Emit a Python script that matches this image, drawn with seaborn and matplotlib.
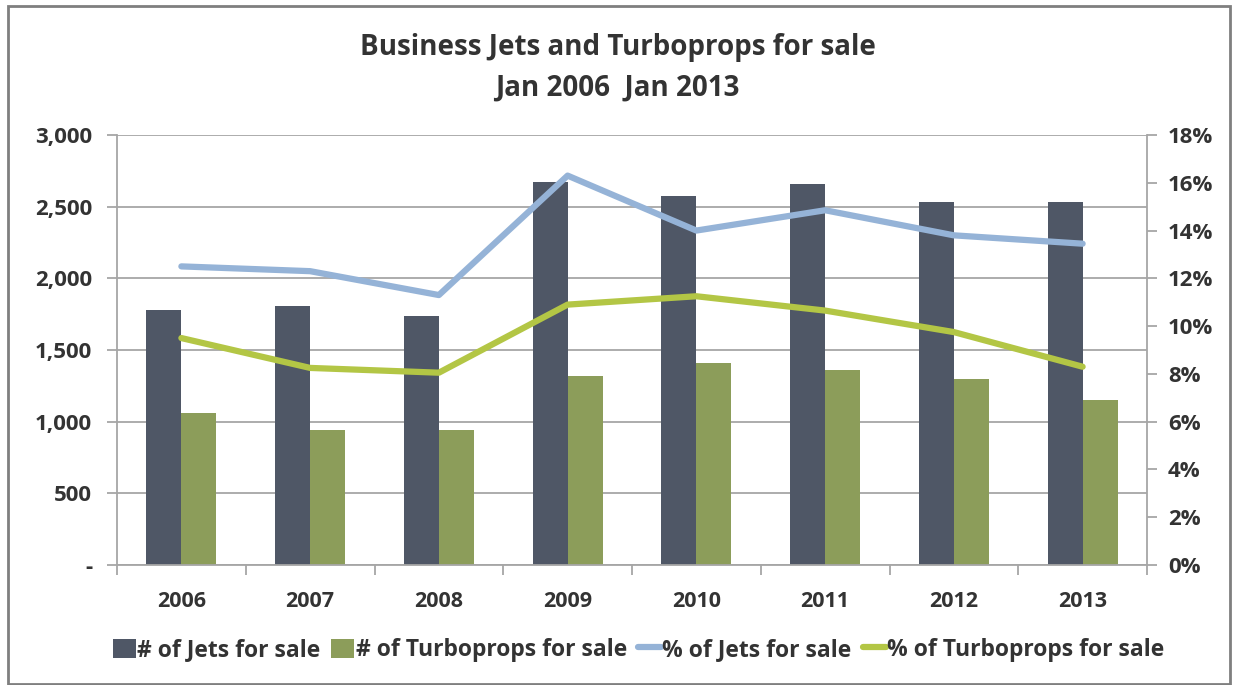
import matplotlib
matplotlib.use("Agg")
import matplotlib.pyplot as plt
from matplotlib.patches import Rectangle, Patch
from matplotlib.lines import Line2D
from matplotlib.ticker import FixedLocator, FuncFormatter
import seaborn as sns
import pandas as pd

years = ["2006", "2007", "2008", "2009", "2010", "2011", "2012", "2013"]
jets_count = [1780, 1810, 1740, 2670, 2575, 2655, 2535, 2535]
turbo_count = [1060, 940, 940, 1320, 1410, 1360, 1300, 1150]
jets_pct = [12.5, 12.3, 11.3, 16.3, 14.0, 14.85, 13.8, 13.45]
turbo_pct = [9.5, 8.25, 8.05, 10.9, 11.25, 10.65, 9.75, 8.3]

bar_names = ["# of Jets for sale", "# of Turboprops for sale"]
line_names = ["% of Jets for sale", "% of Turboprops for sale"]
bar_colors = ["#4f5766", "#8c9d5a"]
line_colors = ["#95b3d7", "#b3c645"]

sns.set_theme(style="white")
plt.rcParams["font.family"] = ["Open Sans", "DejaVu Sans"]
text_color = "#333333"
grid_color = "#a6a6a6"

bars_df = pd.DataFrame({
    "year": years * 2,
    "count": jets_count + turbo_count,
    "series": [bar_names[0]] * len(years) + [bar_names[1]] * len(years),
})
lines_df = pd.DataFrame({
    "year": years * 2,
    "pct": jets_pct + turbo_pct,
    "series": [line_names[0]] * len(years) + [line_names[1]] * len(years),
})

fig = plt.figure(figsize=(12.35, 6.85), dpi=100)
ax = fig.add_axes([117 / 1235, 1 - 565 / 685, 1030 / 1235, 430 / 685])

sns.barplot(data=bars_df, x="year", y="count", hue="series",
            palette=bar_colors, width=0.544, gap=0, saturation=1,
            ax=ax, legend=False, linewidth=0)

ax.set_xlim(-0.5, len(years) - 0.5)
ax.set_ylim(0, 3000)
ax.set_yticks(range(0, 3001, 500))
ax.yaxis.set_major_formatter(FuncFormatter(lambda v, p: "-" if v == 0 else f"{int(v):,}"))
ax.grid(axis="y", color=grid_color, linewidth=1.3)
ax.set_axisbelow(True)
ax.set_xlabel("")
ax.set_ylabel("")

ax2 = ax.twinx()
sns.lineplot(data=lines_df, x="year", y="pct", hue="series",
             palette=line_colors, linewidth=4.5, ax=ax2, legend=False,
             sort=False)
ax2.set_xlim(-0.5, len(years) - 0.5)
ax2.set_ylim(0, 18)
ax2.set_yticks(range(0, 19, 2))
ax2.yaxis.set_major_formatter(FuncFormatter(lambda v, p: f"{int(v)}%"))
ax2.set_ylabel("")
ax2.grid(False)

for a in (ax, ax2):
    for s in a.spines.values():
        s.set_visible(False)
for a, side in ((ax, "left"), (ax, "bottom"), (ax2, "right")):
    a.spines[side].set_visible(True)
    a.spines[side].set_color(grid_color)
    a.spines[side].set_linewidth(1.3)

# x ticks sit on category boundaries, labels at centres
ax.xaxis.set_major_locator(FixedLocator(range(len(years))))
ax.set_xticklabels(years)
ax.xaxis.set_minor_locator(FixedLocator([i - 0.5 for i in range(len(years) + 1)]))
ax.tick_params(axis="x", which="major", length=0, pad=19, labelsize=15.5,
               labelcolor=text_color)
ax.tick_params(axis="x", which="minor", bottom=True, length=7, width=1.3,
               color=grid_color, direction="out")
ax.tick_params(axis="y", left=True, length=7, width=1.3, color=grid_color,
               direction="out", pad=11, labelsize=16, labelcolor=text_color)
ax2.tick_params(axis="y", right=True, length=7, width=1.3, color=grid_color,
                direction="out", pad=8, labelsize=16, labelcolor=text_color)
for lbl in ax.get_xticklabels() + ax.get_yticklabels() + ax2.get_yticklabels():
    lbl.set_fontweight("bold")

fig.text(0.5, 1 - 48 / 685, "Business Jets and Turboprops for sale",
         ha="center", va="center", fontsize=20, fontweight="bold", color=text_color)
fig.text(0.5, 1 - 88 / 685, "Jan 2006  Jan 2013",
         ha="center", va="center", fontsize=20, fontweight="bold", color=text_color)

handles = [Patch(facecolor=c, edgecolor="none") for c in bar_colors] + \
          [Line2D([0], [0], color=c, linewidth=4.5) for c in line_colors]
fig.legend(handles, bar_names + line_names, loc="center",
           bbox_to_anchor=(0.517, 1 - 650 / 685), ncol=4, frameon=False,
           handlelength=1.0, handletextpad=0.05, columnspacing=0.5,
           handleheight=0.9, labelcolor=text_color,
           prop={"weight": "bold", "size": 16.5})

fig.patches.append(Rectangle((8 / 1235, 1 / 685), 1222 / 1235, 678 / 685,
                             transform=fig.transFigure, fill=False,
                             edgecolor="#7f7f7f", linewidth=2))

fig.savefig("out.png", dpi=100)
